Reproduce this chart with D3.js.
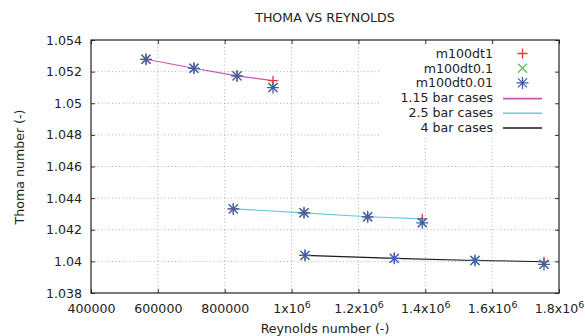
<!DOCTYPE html>
<html>
<head>
<meta charset="utf-8">
<script src="https://cdn.jsdelivr.net/npm/d3@7"></script>
<style>
body { margin: 0; background: #fff; }
text { font-family: "DejaVu Sans", sans-serif; fill: #222; }
</style>
</head>
<body>
<svg id="svg" width="585" height="336"></svg>
<script>
// Reynolds numbers per pressure case
const re115 = [564500, 708000, 836800, 944400];
const re25 = [825700, 1037200, 1227700, 1391000];
const re4 = [1040200, 1307300, 1548700, 1755100];

// thoma number, m100dt1
const th115_dt1 = [1.05278, 1.05221, 1.05173, 1.05143];
const th25_dt1 = [1.04332, 1.04307, 1.04282, 1.04269];
const th4_dt1 = [1.04038, 1.04019, 1.04006, 1.03998];
// m100dt0.1
const th115_dt01 = [1.05278, 1.05221, 1.05173, 1.05100];
const th25_dt01 = [1.04332, 1.04307, 1.04282, 1.04245];
const th4_dt01 = [1.04038, 1.04019, 1.04006, 1.03982];
// m100dt0.01
const th115_dt001 = [1.05278, 1.05221, 1.05173, 1.05099];
const th25_dt001 = [1.04332, 1.04307, 1.04282, 1.04244];
const th4_dt001 = [1.04038, 1.04019, 1.04006, 1.03981];

const xTicks = [400000, 600000, 800000, 1000000, 1200000, 1400000, 1600000, 1800000];
const yTicks = [1.038, 1.04, 1.042, 1.044, 1.046, 1.048, 1.05, 1.052, 1.054];

const pointNames = ['m100dt1', 'm100dt0.1', 'm100dt0.01'];
const lineNames = ['1.15 bar cases', '2.5 bar cases', '4 bar cases'];

const pl = 91, pr = 559, pt = 40, pb = 293;
const fs = 12.6;

var svg = d3.select('#svg');

const x = d3.scaleLinear().domain([400000, 1800000]).range([pl, pr]);
const y = d3.scaleLinear().domain([1.038, 1.054]).range([pb, pt]);

//grid
const grid = svg.append('g');
grid.selectAll('.gx').data(xTicks.slice(1, -1)).enter().append('line')
  .attr('x1', d => x(d)).attr('x2', d => x(d))
  .attr('y1', pt).attr('y2', pb);
grid.selectAll('.gy').data(yTicks.slice(1, -1)).enter().append('line')
  .attr('x1', pl).attr('x2', pr)
  .attr('y1', d => y(d)).attr('y2', d => y(d));
grid.selectAll('line')
  .attr('stroke', '#9a9a9a').attr('stroke-width', 0.8)
  .attr('stroke-dasharray', '1,2.5');

// legend background hides grid
svg.append('rect').attr('x', 380).attr('y', 44).attr('width', pr - 381).attr('height', 92)
  .attr('fill', '#fff');

// axes
const xa = svg.append('g').attr('transform', 'translate(0,' + pb + ')')
  .call(d3.axisBottom(x).tickValues(xTicks).tickSize(-4).tickPadding(0));
xa.selectAll('text').each(function(d) {
  const t = d3.select(this).attr('y', 19.5).attr('dy', null).text(null)
    .style('font-size', fs + 'px').attr('fill', '#222');
  if (d < 1000000) { t.text(d); return; }
  const m = +(d / 1000000).toFixed(1);
  t.append('tspan').text(m + 'x10');
  t.append('tspan').text('6').style('font-size', '9.5px').attr('dy', -5);
});
svg.append('g').attr('transform', 'translate(0,' + pt + ')')
  .call(d3.axisTop(x).tickValues(xTicks).tickSize(-4).tickFormat(''));

const ya = svg.append('g').attr('transform', 'translate(' + pl + ',0)')
  .call(d3.axisLeft(y).tickValues(yTicks).tickSize(-4).tickPadding(9)
    .tickFormat(d => String(+d.toFixed(3))));
ya.selectAll('text').style('font-size', fs + 'px').attr('fill', '#222');
svg.append('g').attr('transform', 'translate(' + pr + ',0)')
  .call(d3.axisRight(y).tickValues(yTicks).tickSize(-4).tickFormat(''));

svg.selectAll('.domain').remove();
svg.selectAll('.tick line').attr('stroke', '#333');

svg.append('rect').attr('x', pl).attr('y', pt)
  .attr('width', pr - pl).attr('height', pb - pt)
  .attr('fill', 'none').attr('stroke', '#222').attr('stroke-width', 1.2);

// fit lines
const lineColors = ['#c455b6', '#62cbe0', '#1a1a1a'];
const lineSets = [[re115, th115_dt1], [re25, th25_dt1], [re4, th4_dt1]];
const line = d3.line().x(d => x(d[0])).y(d => y(d[1]));
lineSets.forEach(function(s, i) {
  svg.append('path').datum(d3.zip(s[0], s[1]))
    .attr('d', line).attr('fill', 'none')
    .attr('stroke', lineColors[i]).attr('stroke-width', 1.1);
});

// point symbols
const ptColors = ['#f03535', '#5cbd55', '#3d5fae'];
function sym(g, k, cx, cy) {
  var p = '';
  if (k == 0) p = 'M' + (cx - 5) + ',' + cy + 'h10M' + cx + ',' + (cy - 5) + 'v10';
  if (k == 1) p = 'M' + (cx - 4.5) + ',' + (cy - 4.5) + 'l9,9M' + (cx - 4.5) + ',' + (cy + 4.5) + 'l9,-9';
  if (k == 2) p = 'M' + (cx - 6) + ',' + cy + 'h12M' + cx + ',' + (cy - 6) + 'v12'
    + 'M' + (cx - 4.5) + ',' + (cy - 4.5) + 'l9,9M' + (cx - 4.5) + ',' + (cy + 4.5) + 'l9,-9';
  g.append('path').attr('d', p).attr('stroke', ptColors[k])
    .attr('stroke-width', 1.3).attr('fill', 'none');
}
const ptSets = [
  [th115_dt1, th25_dt1, th4_dt1],
  [th115_dt01, th25_dt01, th4_dt01],
  [th115_dt001, th25_dt001, th4_dt001]
];
const reSets = [re115, re25, re4];
const pts = svg.append('g');
ptSets.forEach(function(set, k) {
  set.forEach(function(vals, j) {
    vals.forEach(function(v, i) {
      sym(pts, k, x(reSets[j][i]), y(v));
    });
  });
});

// legend
const rowY = [53.5, 68.2, 82.9, 97.6, 112.3, 127];
const leg = svg.append('g');
pointNames.forEach(function(n, k) {
  leg.append('text').attr('x', 493).attr('y', rowY[k] + 4.5).attr('text-anchor', 'end')
    .style('font-size', fs + 'px').text(n);
  sym(leg, k, 522.5, rowY[k]);
});
lineNames.forEach(function(n, k) {
  leg.append('text').attr('x', 493).attr('y', rowY[k + 3] + 4.5).attr('text-anchor', 'end')
    .style('font-size', fs + 'px').text(n);
  leg.append('line').attr('x1', 503).attr('x2', 542)
    .attr('y1', rowY[k + 3] + 1).attr('y2', rowY[k + 3] + 1)
    .attr('stroke', lineColors[k]).attr('stroke-width', 1.6);
});

// titles
svg.append('text').attr('x', 325).attr('y', 22).attr('text-anchor', 'middle')
  .style('font-size', fs + 'px').text('THOMA VS REYNOLDS');
svg.append('text').attr('x', 325).attr('y', 332.5).attr('text-anchor', 'middle')
  .style('font-size', fs + 'px').text('Reynolds number (-)');
svg.append('text').attr('transform', 'translate(24,167) rotate(-90)')
  .attr('text-anchor', 'middle')
  .style('font-size', fs + 'px').text('Thoma number (-)');
</script>
</body>
</html>
